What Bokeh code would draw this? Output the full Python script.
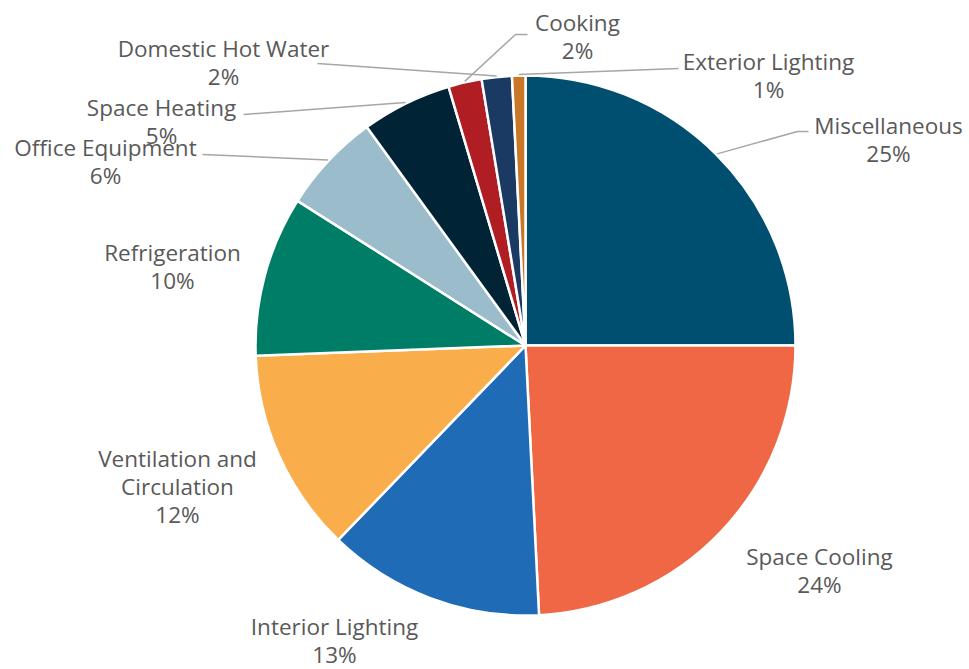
import math
from bokeh.plotting import figure
from bokeh.models import Range1d, ColumnDataSource
from bokeh.core.properties import value
from bokeh.embed import file_html
from bokeh.resources import INLINE

# ---- data ----
categories = ["Miscellaneous", "Space Cooling", "Interior Lighting", "Ventilation and\nCirculation",
              "Refrigeration", "Office Equipment", "Space Heating", "Domestic Hot Water",
              "Cooking", "Exterior Lighting"]
shares = [25.0, 24.2, 13.0, 12.2, 9.6, 6.0, 5.4, 2.0, 1.8, 0.8]
colors = ["#004F71", "#F06746", "#1F6BB5", "#F9AE4B", "#007D67", "#9BBCCB",
          "#002436", "#B01E24", "#1A3A63", "#C97628"]

# ---- layout (image pixel coords; y grows downward) ----
CX, CY, R = 525, 345, 270
label_pos = [(888, 125), (819, 556), (334, 626), (177, 458), (172, 252),
             (105, 147), (161, 107), (223, 48), (577, 22), (768, 61)]
line_gap = 28
# leader lines: label-side points, and which slice each points at
leaders = {
    0: ([808, 797], [131, 131], 0),
    5: ([202], [154], 5),
    6: ([243], [114], 6),
    7: ([317], [63], 8),
    8: ([527, 515], [34, 34], 7),
    9: ([678], [68], 9),
}

W, H = 969, 669
p = figure(width=W, height=H, output_backend="svg", toolbar_location=None,
           x_range=Range1d(0, W), y_range=Range1d(-H, 0),
           x_axis_location=None, y_axis_location=None, min_border=0,
           outline_line_color=None, background_fill_color="white")
p.grid.visible = False

total = sum(shares)
starts, ends, mids = [], [], []
c = 0.0
for s in shares:
    a0 = math.pi / 2 - 2 * math.pi * c / total
    c += s
    a1 = math.pi / 2 - 2 * math.pi * c / total
    starts.append(a0)
    ends.append(a1)
    mids.append((a0 + a1) / 2)

src = ColumnDataSource(dict(start=starts, end=ends, color=colors))
p.wedge(x=CX, y=-CY, radius=R, start_angle="start", end_angle="end", direction="clock",
        fill_color="color", line_color="white", line_width=2.5, source=src)

# leader lines
xs, ys = [], []
for i, (lx, ly, tgt) in leaders.items():
    ex = CX + (R + 1) * math.cos(mids[tgt])
    ey = CY - (R + 1) * math.sin(mids[tgt])
    xs.append(lx + [ex])
    ys.append([-v for v in ly] + [-ey])
p.multi_line(xs=xs, ys=ys, line_color="#A6A6A6", line_width=1.5)

# labels
tx, ty, tt = [], [], []
for i, name in enumerate(categories):
    x0, y0 = label_pos[i]
    lines = name.split("\n") + [f"{round(shares[i] / total * 100)}%"]
    for k, t in enumerate(lines):
        tx.append(x0)
        ty.append(-(y0 + k * line_gap))
        tt.append(t)
p.text(x=tx, y=ty, text=tt, text_align="center", text_baseline="middle",
       text_font=value("Open Sans"), text_font_size="22.5px", text_color="#595959")

open("out.html", "w").write(file_html(p, INLINE))
